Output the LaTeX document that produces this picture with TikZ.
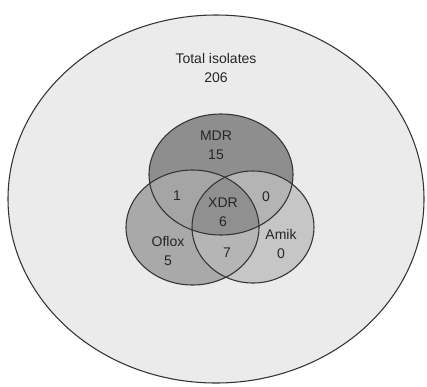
\documentclass[tikz,border=0pt]{standalone}
\usepackage{fontspec}
\setmainfont{Liberation Sans}
\definecolor{outerc}{HTML}{EBEBEB}
\definecolor{mdrc}{HTML}{8E8E8E}
\definecolor{oflc}{HTML}{A9A9A9}
\definecolor{amkc}{HTML}{C6C6C6}
\definecolor{moc}{HTML}{A5A5A5}
\definecolor{mac}{HTML}{B4B4B4}
\definecolor{oac}{HTML}{B5B5B5}
\definecolor{xdrc}{HTML}{909090}
\definecolor{linec}{HTML}{333333}
\begin{document}
\begin{tikzpicture}[x=0.75pt,y=-0.75pt,
  lbl/.style={font=\fontsize{10.5}{12.6}\selectfont, text=black!85, align=center, inner sep=0pt},
  edge/.style={draw=linec, line width=0.8pt}]
\useasboundingbox (0,0) rectangle (427,386);
\fill[white] (0,0) rectangle (427,386);
\def\outerE{(216,199) ellipse [x radius=208, y radius=184]}
\def\mdrE{(221,174.5) ellipse [x radius=72, y radius=60.5]}
\def\oflE{(192.5,227.5) ellipse [x radius=66.5, y radius=57.5]}
\def\amkE{(253,227) ellipse [x radius=61, y radius=56]}
% fills
\fill[outerc] \outerE;
\fill[oflc] \oflE;
\fill[amkc] \amkE;
\fill[mdrc] \mdrE;
\begin{scope}\clip \oflE; \fill[oac] \amkE; \end{scope}
\begin{scope}\clip \mdrE; \fill[moc] \oflE; \end{scope}
\begin{scope}\clip \mdrE; \fill[mac] \amkE; \end{scope}
\begin{scope}\clip \mdrE; \clip \oflE; \fill[xdrc] \amkE; \end{scope}
% outlines
\draw[edge] \outerE;
\draw[edge] \mdrE;
\draw[edge] \oflE;
\draw[edge] \amkE;
% labels
\node[lbl] (total) at (216,68) {Total isolates\\[2pt]206};
\node[lbl] (mdr) at (216,145) {MDR\\[2pt]15};
\node[lbl] (mo) at (177,196) {1};
\node[lbl] (ma) at (266,197) {0};
\node[lbl] (xdr) at (223,212) {XDR\\[2pt]6};
\node[lbl] (ofl) at (168,251) {Oflox\\[2pt]5};
\node[lbl] (amk) at (281,244) {Amik\\[2pt]0};
\node[lbl] (oa) at (227,253) {7};
\end{tikzpicture}
\end{document}
